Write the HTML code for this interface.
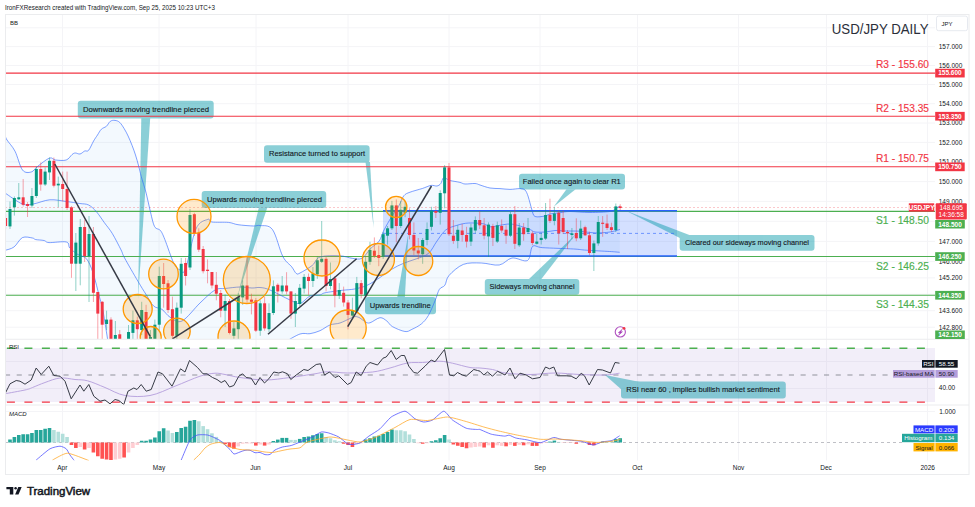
<!DOCTYPE html><html><head><meta charset="utf-8"><style>html,body{margin:0;padding:0;background:#fff;}svg{display:block;font-family:"Liberation Sans",sans-serif;}</style></head><body>
<svg width="975" height="507" viewBox="0 0 975 507">
<defs><clipPath id="cm"><rect x="5" y="14" width="930" height="325"/></clipPath><clipPath id="cr"><rect x="5" y="339.5" width="930" height="65"/></clipPath><clipPath id="cd"><rect x="5" y="405.5" width="930" height="55"/></clipPath></defs>
<rect x="0" y="0" width="975" height="507" fill="#fff"/>
<text x="5" y="10" font-size="7" fill="#131722" textLength="210" lengthAdjust="spacingAndGlyphs">IronFXResearch created with TradingView.com, Sep 25, 2025 10:23 UTC+3</text>
<line x1="62.5" y1="14" x2="62.5" y2="460.5" stroke="#f4f4f7" stroke-width="1"/>
<line x1="159" y1="14" x2="159" y2="460.5" stroke="#f4f4f7" stroke-width="1"/>
<line x1="256" y1="14" x2="256" y2="460.5" stroke="#f4f4f7" stroke-width="1"/>
<line x1="348" y1="14" x2="348" y2="460.5" stroke="#f4f4f7" stroke-width="1"/>
<line x1="449" y1="14" x2="449" y2="460.5" stroke="#f4f4f7" stroke-width="1"/>
<line x1="540" y1="14" x2="540" y2="460.5" stroke="#f4f4f7" stroke-width="1"/>
<line x1="637.5" y1="14" x2="637.5" y2="460.5" stroke="#f4f4f7" stroke-width="1"/>
<line x1="738.5" y1="14" x2="738.5" y2="460.5" stroke="#f4f4f7" stroke-width="1"/>
<line x1="826.5" y1="14" x2="826.5" y2="460.5" stroke="#f4f4f7" stroke-width="1"/>
<line x1="927.5" y1="14" x2="927.5" y2="460.5" stroke="#f4f4f7" stroke-width="1"/>
<line x1="5" y1="27.8" x2="935" y2="27.8" stroke="#f4f4f7" stroke-width="1"/>
<line x1="5" y1="46.6" x2="935" y2="46.6" stroke="#f4f4f7" stroke-width="1"/>
<line x1="5" y1="65.5" x2="935" y2="65.5" stroke="#f4f4f7" stroke-width="1"/>
<line x1="5" y1="84.5" x2="935" y2="84.5" stroke="#f4f4f7" stroke-width="1"/>
<line x1="5" y1="103.7" x2="935" y2="103.7" stroke="#f4f4f7" stroke-width="1"/>
<line x1="5" y1="123.0" x2="935" y2="123.0" stroke="#f4f4f7" stroke-width="1"/>
<line x1="5" y1="142.4" x2="935" y2="142.4" stroke="#f4f4f7" stroke-width="1"/>
<line x1="5" y1="161.9" x2="935" y2="161.9" stroke="#f4f4f7" stroke-width="1"/>
<line x1="5" y1="181.6" x2="935" y2="181.6" stroke="#f4f4f7" stroke-width="1"/>
<line x1="5" y1="201.4" x2="935" y2="201.4" stroke="#f4f4f7" stroke-width="1"/>
<line x1="5" y1="221.3" x2="935" y2="221.3" stroke="#f4f4f7" stroke-width="1"/>
<line x1="5" y1="241.4" x2="935" y2="241.4" stroke="#f4f4f7" stroke-width="1"/>
<line x1="5" y1="261.6" x2="935" y2="261.6" stroke="#f4f4f7" stroke-width="1"/>
<line x1="5" y1="277.9" x2="935" y2="277.9" stroke="#f4f4f7" stroke-width="1"/>
<line x1="5" y1="294.2" x2="935" y2="294.2" stroke="#f4f4f7" stroke-width="1"/>
<line x1="5" y1="310.7" x2="935" y2="310.7" stroke="#f4f4f7" stroke-width="1"/>
<line x1="5" y1="327.2" x2="935" y2="327.2" stroke="#f4f4f7" stroke-width="1"/>
<line x1="5" y1="361.5" x2="935" y2="361.5" stroke="#f4f4f7" stroke-width="1"/>
<line x1="5" y1="388.5" x2="935" y2="388.5" stroke="#f4f4f7" stroke-width="1"/>
<line x1="5" y1="411.5" x2="935" y2="411.5" stroke="#f4f4f7" stroke-width="1"/>
<g clip-path="url(#cm)">
<path d="M5.0,135.0 L7.0,140.0 L15.0,151.2 L22.5,170.0 L31.2,172.0 L37.5,166.5 L49.4,158.1 L55.6,160.0 L66.2,160.0 L72.0,154.6 L75.3,153.0 L80.0,154.0 L84.7,151.0 L88.6,150.3 L93.6,141.0 L97.5,135.0 L101.4,129.2 L106.4,126.3 L110.3,121.3 L115.0,120.4 L119.7,122.4 L124.2,128.7 L128.1,136.0 L132.1,145.5 L135.5,155.0 L138.8,166.6 L141.2,176.3 L146.2,193.2 L150.0,210.0 L154.5,226.4 L160.4,230.5 L164.8,239.4 L173.7,263.0 L180.0,270.0 L185.5,269.0 L195.9,229.0 L207.7,219.4 L212.0,222.0 L228.4,222.4 L238.0,224.7 L253.6,226.0 L260.0,225.5 L272.5,229.6 L282.8,256.4 L291.7,266.8 L296.2,273.4 L300.0,273.0 L312.4,265.3 L320.0,257.0 L339.8,255.8 L352.2,258.3 L362.0,258.3 L370.6,248.5 L379.2,241.0 L384.0,230.0 L391.5,216.8 L398.9,205.7 L403.8,195.8 L410.0,192.2 L422.3,188.5 L431.0,185.4 L437.0,186.0 L440.8,183.5 L443.2,178.0 L446.3,178.6 L450.0,180.5 L460.0,182.4 L465.0,184.0 L475.0,183.5 L480.0,185.0 L490.0,188.0 L500.0,188.6 L510.0,189.4 L520.0,188.6 L525.0,190.0 L528.0,196.0 L530.0,203.0 L532.0,210.0 L535.0,216.5 L545.0,216.0 L550.0,214.0 L560.0,212.7 L570.0,211.5 L590.0,212.5 L610.0,211.5 L615.0,209.0 L620.0,206.0 L619.7,252.3 L609.5,251.5 L586.4,250.2 L573.6,249.0 L542.8,247.7 L532.6,246.4 L527.5,260.5 L512.0,258.0 L499.2,265.0 L481.3,263.0 L463.3,264.4 L449.0,275.5 L444.9,285.2 L439.4,289.3 L435.2,300.4 L428.3,315.6 L421.4,323.9 L411.8,329.4 L404.9,331.5 L392.4,326.6 L386.9,321.1 L380.0,317.7 L370.0,322.8 L365.0,321.7 L360.0,318.0 L355.0,316.6 L350.0,318.5 L340.0,323.0 L330.0,325.0 L320.0,330.7 L310.0,333.7 L300.0,334.0 L285.0,342.0 L108.0,342.0 L103.0,311.0 L99.7,297.8 L93.0,272.8 L86.4,258.7 L78.0,254.6 L69.8,248.0 L66.4,242.0 L49.0,242.6 L44.0,240.5 L35.7,239.6 L32.4,238.0 L22.4,237.6 L14.0,247.0 L5.0,250.4 Z" fill="#2196f3" fill-opacity="0.055"/>
<line x1="5" y1="207.5" x2="935" y2="207.5" stroke="#f23645" stroke-width="0.8" stroke-dasharray="2,2" stroke-opacity="0.35"/>
<rect x="383" y="210.8" width="294" height="45.2" fill="#2962ff" fill-opacity="0.2"/>
</g>
<g opacity="0.45"><path d="M141.3,118 L150.2,118 L138,299 Z" fill="#0097a7"/><rect x="77.8" y="100.7" width="135.9" height="17.8" rx="3" fill="#0097a7"/></g>
<text x="83" y="112" font-size="8" fill="#131722" stroke="#131722" stroke-width="0.12" textLength="126" lengthAdjust="spacingAndGlyphs">Downwards moving trendline  pierced</text>
<g opacity="0.45"><path d="M259,207 L267.5,207 L237.5,296.5 Z" fill="#0097a7"/><rect x="201.7" y="191" width="124.5" height="17.0" rx="3" fill="#0097a7"/></g>
<text x="207" y="202.2" font-size="8" fill="#131722" stroke="#131722" stroke-width="0.12" textLength="115" lengthAdjust="spacingAndGlyphs">Upwards moving trendline pierced</text>
<g opacity="0.45"><path d="M365.5,162 L370,162 L373.7,228 Z" fill="#0097a7"/><rect x="264" y="145.2" width="105.6" height="17.6" rx="3" fill="#0097a7"/></g>
<text x="269" y="156.3" font-size="8" fill="#131722" stroke="#131722" stroke-width="0.12" textLength="96" lengthAdjust="spacingAndGlyphs">Resistance turned to support</text>
<g opacity="0.45"><path d="M397.3,297 L404.9,297 L408.4,233 Z" fill="#0097a7"/><rect x="365" y="296.9" width="71.0" height="17.3" rx="3" fill="#0097a7"/></g>
<text x="369.7" y="307.5" font-size="8" fill="#131722" stroke="#131722" stroke-width="0.12" textLength="61" lengthAdjust="spacingAndGlyphs">Upwards trendline</text>
<g opacity="0.45"><path d="M566.5,189.2 L575.6,189.2 L553.7,206.8 Z" fill="#0097a7"/><rect x="519" y="173.7" width="106.0" height="15.8" rx="3" fill="#0097a7"/></g>
<text x="522.8" y="183.5" font-size="8" fill="#131722" stroke="#131722" stroke-width="0.12" textLength="98" lengthAdjust="spacingAndGlyphs">Failed once again to clear R1</text>
<g opacity="0.45"><path d="M528.5,279.5 L541,279.5 L576,234 Z" fill="#0097a7"/><rect x="484.8" y="279" width="94.5" height="15.8" rx="3" fill="#0097a7"/></g>
<text x="489.6" y="289.4" font-size="8" fill="#131722" stroke="#131722" stroke-width="0.12" textLength="85" lengthAdjust="spacingAndGlyphs">Sideways moving channel</text>
<g opacity="0.45"><path d="M625.4,210.4 L690,235.2 L679.8,238 Z" fill="#0097a7"/><rect x="679.7" y="235" width="134.8" height="15.8" rx="3" fill="#0097a7"/></g>
<text x="685" y="245.2" font-size="8" fill="#131722" stroke="#131722" stroke-width="0.12" textLength="124" lengthAdjust="spacingAndGlyphs">Cleared our sideways moving channel</text>
<g clip-path="url(#cm)">
<line x1="5" y1="73.1" x2="935" y2="73.1" stroke="#f23645" stroke-width="1.1"/>
<line x1="5" y1="116.2" x2="935" y2="116.2" stroke="#f23645" stroke-width="1.1"/>
<line x1="5" y1="166.8" x2="935" y2="166.8" stroke="#f23645" stroke-width="1.1"/>
<line x1="5" y1="211.4" x2="935" y2="211.4" stroke="#4caf50" stroke-width="1.1"/>
<line x1="5" y1="256.5" x2="935" y2="256.5" stroke="#4caf50" stroke-width="1.1"/>
<line x1="5" y1="295.3" x2="935" y2="295.3" stroke="#4caf50" stroke-width="1.1"/>
<line x1="383" y1="233.4" x2="677" y2="233.4" stroke="#2962ff" stroke-width="1" stroke-dasharray="3,3" stroke-opacity="0.6"/>
<line x1="383" y1="210.8" x2="677" y2="210.8" stroke="#2962ff" stroke-width="1.6"/>
<line x1="383" y1="256" x2="677" y2="256" stroke="#2962ff" stroke-width="1.6"/>
<path d="M5.0,135.0 C5.3,135.8 5.3,137.3 7.0,140.0 C8.7,142.7 12.4,146.2 15.0,151.2 C17.6,156.2 19.8,166.5 22.5,170.0 C25.2,173.5 28.8,172.6 31.2,172.0 C33.8,171.4 34.5,168.8 37.5,166.5 C40.5,164.2 46.4,159.2 49.4,158.1 C52.4,157.0 52.8,159.7 55.6,160.0 C58.4,160.3 63.5,160.9 66.2,160.0 C69.0,159.1 70.5,155.8 72.0,154.6 C73.5,153.4 74.0,153.1 75.3,153.0 C76.6,152.9 78.4,154.3 80.0,154.0 C81.6,153.7 83.3,151.6 84.7,151.0 C86.1,150.4 87.1,152.0 88.6,150.3 C90.1,148.6 92.1,143.6 93.6,141.0 C95.1,138.4 96.2,137.0 97.5,135.0 C98.8,133.0 99.9,130.6 101.4,129.2 C102.9,127.7 104.9,127.6 106.4,126.3 C107.9,125.0 108.9,122.3 110.3,121.3 C111.7,120.3 113.4,120.2 115.0,120.4 C116.6,120.6 118.2,121.0 119.7,122.4 C121.2,123.8 122.8,126.4 124.2,128.7 C125.6,131.0 126.8,133.2 128.1,136.0 C129.4,138.8 130.9,142.3 132.1,145.5 C133.3,148.7 134.4,151.5 135.5,155.0 C136.6,158.5 137.9,163.0 138.8,166.6 C139.8,170.2 140.0,171.9 141.2,176.3 C142.4,180.7 144.7,187.6 146.2,193.2 C147.7,198.8 148.6,204.5 150.0,210.0 C151.4,215.5 152.8,223.0 154.5,226.4 C156.2,229.8 158.7,228.3 160.4,230.5 C162.1,232.7 162.6,234.0 164.8,239.4 C167.0,244.8 171.2,257.9 173.7,263.0 C176.2,268.1 178.0,269.0 180.0,270.0 C182.0,271.0 182.8,275.8 185.5,269.0 C188.2,262.2 192.2,237.3 195.9,229.0 C199.6,220.7 205.0,220.6 207.7,219.4 C210.4,218.2 208.6,221.5 212.0,222.0 C215.4,222.5 224.1,222.0 228.4,222.4 C232.7,222.8 233.8,224.1 238.0,224.7 C242.2,225.3 249.9,225.9 253.6,226.0 C257.3,226.1 256.9,224.9 260.0,225.5 C263.1,226.1 268.7,224.4 272.5,229.6 C276.3,234.8 279.6,250.2 282.8,256.4 C286.0,262.6 289.5,264.0 291.7,266.8 C293.9,269.6 294.8,272.4 296.2,273.4 C297.6,274.4 297.3,274.4 300.0,273.0 C302.7,271.6 309.1,268.0 312.4,265.3 C315.7,262.6 315.4,258.6 320.0,257.0 C324.6,255.4 334.4,255.6 339.8,255.8 C345.2,256.0 348.5,257.9 352.2,258.3 C355.9,258.7 358.9,259.9 362.0,258.3 C365.1,256.7 367.7,251.4 370.6,248.5 C373.5,245.6 377.0,244.1 379.2,241.0 C381.4,237.9 381.9,234.0 384.0,230.0 C386.1,226.0 389.0,220.9 391.5,216.8 C394.0,212.8 396.8,209.2 398.9,205.7 C400.9,202.2 401.9,198.1 403.8,195.8 C405.7,193.6 406.9,193.4 410.0,192.2 C413.1,191.0 418.8,189.6 422.3,188.5 C425.8,187.4 428.6,185.8 431.0,185.4 C433.4,185.0 435.4,186.3 437.0,186.0 C438.6,185.7 439.8,184.8 440.8,183.5 C441.8,182.2 442.3,178.8 443.2,178.0 C444.1,177.2 445.2,178.2 446.3,178.6 C447.4,179.0 447.7,179.9 450.0,180.5 C452.3,181.1 457.5,181.8 460.0,182.4 C462.5,183.0 462.5,183.8 465.0,184.0 C467.5,184.2 472.5,183.3 475.0,183.5 C477.5,183.7 477.5,184.2 480.0,185.0 C482.5,185.8 486.7,187.4 490.0,188.0 C493.3,188.6 496.7,188.4 500.0,188.6 C503.3,188.8 506.7,189.4 510.0,189.4 C513.3,189.4 517.5,188.5 520.0,188.6 C522.5,188.7 523.7,188.8 525.0,190.0 C526.3,191.2 527.2,193.8 528.0,196.0 C528.8,198.2 529.3,200.7 530.0,203.0 C530.7,205.3 531.2,207.8 532.0,210.0 C532.8,212.2 532.8,215.5 535.0,216.5 C537.2,217.5 542.5,216.4 545.0,216.0 C547.5,215.6 547.5,214.6 550.0,214.0 C552.5,213.4 556.7,213.1 560.0,212.7 C563.3,212.3 565.0,211.5 570.0,211.5 C575.0,211.5 583.3,212.5 590.0,212.5 C596.7,212.5 605.8,212.1 610.0,211.5 C614.2,210.9 613.3,209.9 615.0,209.0 C616.7,208.1 619.2,206.5 620.0,206.0" fill="none" stroke="#2962ff" stroke-opacity="0.75" stroke-width="0.8"/>
<path d="M5.0,193.0 C7.9,194.8 17.7,202.2 22.4,204.0 C27.1,205.8 28.6,204.7 33.2,204.0 C37.8,203.3 44.3,200.2 49.8,199.8 C55.3,199.4 61.4,200.9 66.4,201.5 C71.4,202.1 76.0,202.9 79.7,203.5 C83.4,204.1 85.8,203.6 88.6,205.0 C91.4,206.4 93.9,208.9 96.5,211.8 C99.1,214.8 101.8,219.1 104.4,222.7 C107.0,226.3 109.5,228.9 112.3,233.5 C115.1,238.1 119.0,245.9 121.1,250.0 C123.1,254.1 121.8,252.8 124.6,258.0 C127.4,263.2 134.3,275.1 137.9,281.2 C141.5,287.3 143.4,290.3 146.0,294.4 C148.6,298.5 150.9,303.5 153.6,306.0 C156.3,308.5 159.2,307.5 162.0,309.4 C164.8,311.3 166.9,315.4 170.2,317.3 C173.5,319.2 177.0,323.4 182.0,321.0 C187.0,318.6 194.5,308.2 200.0,303.0 C205.5,297.8 210.8,292.4 215.0,290.0 C219.2,287.6 220.8,289.0 225.0,288.5 C229.2,288.0 235.5,287.1 240.0,287.0 C244.5,286.9 248.7,287.9 252.0,288.0 C255.3,288.1 257.0,287.2 260.0,287.5 C263.0,287.8 265.0,287.9 270.0,290.0 C275.0,292.1 285.0,297.8 290.0,300.0 C295.0,302.2 296.7,304.2 300.0,303.5 C303.3,302.8 306.7,297.4 310.0,296.0 C313.3,294.6 317.5,295.4 320.0,294.9 C322.5,294.4 321.3,293.6 325.0,292.8 C328.7,292.0 337.4,290.9 342.3,290.3 C347.2,289.7 350.5,289.8 354.6,289.0 C358.7,288.2 362.8,287.2 366.9,285.4 C371.0,283.6 375.1,280.7 379.2,278.0 C383.3,275.3 387.4,271.9 391.5,269.4 C395.6,266.9 399.7,264.9 403.8,263.2 C407.9,261.4 412.1,260.5 416.2,258.9 C420.3,257.3 425.0,256.4 428.5,253.4 C432.0,250.4 434.1,244.9 437.0,241.0 C439.9,237.1 442.4,232.6 445.7,230.0 C449.0,227.4 453.1,226.5 457.0,225.3 C460.9,224.1 464.4,223.2 468.8,223.0 C473.2,222.8 480.0,223.2 483.5,223.8 C487.0,224.4 487.2,226.6 490.0,226.8 C492.8,227.1 496.7,225.8 500.0,225.3 C503.3,224.8 506.7,223.9 510.0,224.0 C513.3,224.1 516.7,225.1 520.0,226.0 C523.3,226.9 527.5,228.5 530.0,229.5 C532.5,230.5 532.5,231.6 535.0,232.0 C537.5,232.4 541.7,232.2 545.0,232.0 C548.3,231.8 551.7,230.7 555.0,230.5 C558.3,230.3 560.8,230.9 565.0,231.0 C569.2,231.1 575.0,230.9 580.0,231.2 C585.0,231.5 590.0,232.9 595.0,233.0 C600.0,233.1 605.8,232.6 610.0,232.0 C614.2,231.4 618.3,229.9 620.0,229.5" fill="none" stroke="#2962ff" stroke-opacity="0.75" stroke-width="0.8"/>
<path d="M5.0,250.4 C6.5,249.8 11.1,249.1 14.0,247.0 C16.9,244.9 19.3,239.1 22.4,237.6 C25.5,236.1 30.2,237.7 32.4,238.0 C34.6,238.3 33.8,239.2 35.7,239.6 C37.6,240.0 41.8,240.0 44.0,240.5 C46.2,241.0 45.3,242.3 49.0,242.6 C52.7,242.8 62.9,241.1 66.4,242.0 C69.9,242.9 67.9,245.9 69.8,248.0 C71.7,250.1 75.2,252.8 78.0,254.6 C80.8,256.4 83.9,255.7 86.4,258.7 C88.9,261.7 90.8,266.3 93.0,272.8 C95.2,279.3 98.0,291.4 99.7,297.8 C101.4,304.2 101.6,303.6 103.0,311.0 C104.4,318.4 107.2,336.8 108.0,342.0" fill="none" stroke="#2962ff" stroke-opacity="0.75" stroke-width="0.8"/>
<path d="M285.0,342.0 C287.5,340.7 295.8,335.4 300.0,334.0 C304.2,332.6 306.7,334.2 310.0,333.7 C313.3,333.1 316.7,332.1 320.0,330.7 C323.3,329.2 326.7,326.3 330.0,325.0 C333.3,323.7 336.7,324.1 340.0,323.0 C343.3,321.9 347.5,319.6 350.0,318.5 C352.5,317.4 353.3,316.7 355.0,316.6 C356.7,316.5 358.3,317.1 360.0,318.0 C361.7,318.9 363.3,320.9 365.0,321.7 C366.7,322.5 367.5,323.5 370.0,322.8 C372.5,322.1 377.2,318.0 380.0,317.7 C382.8,317.4 384.8,319.6 386.9,321.1 C389.0,322.6 389.4,324.9 392.4,326.6 C395.4,328.3 401.7,331.0 404.9,331.5 C408.1,332.0 409.1,330.7 411.8,329.4 C414.6,328.1 418.6,326.2 421.4,323.9 C424.1,321.6 426.0,319.5 428.3,315.6 C430.6,311.7 433.4,304.8 435.2,300.4 C437.0,296.0 437.8,291.8 439.4,289.3 C441.0,286.8 443.3,287.5 444.9,285.2 C446.5,282.9 445.9,279.0 449.0,275.5 C452.1,272.0 457.9,266.5 463.3,264.4 C468.7,262.3 475.3,262.9 481.3,263.0 C487.3,263.1 494.1,265.8 499.2,265.0 C504.3,264.2 507.3,258.8 512.0,258.0 C516.7,257.2 524.1,262.4 527.5,260.5 C530.9,258.6 530.1,248.5 532.6,246.4 C535.1,244.3 536.0,247.3 542.8,247.7 C549.6,248.1 566.3,248.6 573.6,249.0 C580.9,249.4 580.4,249.8 586.4,250.2 C592.4,250.6 604.0,251.2 609.5,251.5 C615.0,251.8 618.0,252.2 619.7,252.3" fill="none" stroke="#2962ff" stroke-opacity="0.75" stroke-width="0.8"/>
<line x1="5.61" y1="214.0" x2="5.61" y2="229.0" stroke="#f23645" stroke-opacity="0.45" stroke-width="1"/>
<rect x="4.11" y="218.0" width="3" height="8.00" fill="#f23645"/>
<line x1="10.00" y1="201.5" x2="10.00" y2="229.0" stroke="#089981" stroke-opacity="0.45" stroke-width="1"/>
<rect x="8.50" y="209.0" width="3" height="17.40" fill="#089981"/>
<line x1="14.39" y1="196.5" x2="14.39" y2="215.6" stroke="#089981" stroke-opacity="0.45" stroke-width="1"/>
<rect x="12.89" y="198.0" width="3" height="9.30" fill="#089981"/>
<line x1="18.78" y1="183.0" x2="18.78" y2="200.0" stroke="#089981" stroke-opacity="0.45" stroke-width="1"/>
<rect x="17.28" y="197.3" width="3" height="2.00" fill="#089981"/>
<line x1="23.17" y1="179.0" x2="23.17" y2="206.5" stroke="#f23645" stroke-opacity="0.45" stroke-width="1"/>
<rect x="21.67" y="197.3" width="3" height="7.50" fill="#f23645"/>
<line x1="27.56" y1="202.0" x2="27.56" y2="217.0" stroke="#f23645" stroke-opacity="0.45" stroke-width="1"/>
<rect x="26.06" y="204.0" width="3" height="2.00" fill="#f23645"/>
<line x1="31.95" y1="188.0" x2="31.95" y2="208.0" stroke="#089981" stroke-opacity="0.45" stroke-width="1"/>
<rect x="30.45" y="196.0" width="3" height="9.60" fill="#089981"/>
<line x1="36.34" y1="166.6" x2="36.34" y2="198.0" stroke="#089981" stroke-opacity="0.45" stroke-width="1"/>
<rect x="34.84" y="169.0" width="3" height="27.00" fill="#089981"/>
<line x1="40.73" y1="162.5" x2="40.73" y2="190.7" stroke="#f23645" stroke-opacity="0.45" stroke-width="1"/>
<rect x="39.23" y="169.0" width="3" height="15.50" fill="#f23645"/>
<line x1="45.12" y1="167.4" x2="45.12" y2="186.0" stroke="#089981" stroke-opacity="0.45" stroke-width="1"/>
<rect x="43.62" y="171.6" width="3" height="12.90" fill="#089981"/>
<line x1="49.51" y1="157.5" x2="49.51" y2="180.0" stroke="#089981" stroke-opacity="0.45" stroke-width="1"/>
<rect x="48.01" y="160.8" width="3" height="11.60" fill="#089981"/>
<line x1="53.90" y1="157.5" x2="53.90" y2="187.4" stroke="#f23645" stroke-opacity="0.45" stroke-width="1"/>
<rect x="52.40" y="160.8" width="3" height="24.90" fill="#f23645"/>
<line x1="58.29" y1="176.6" x2="58.29" y2="207.3" stroke="#089981" stroke-opacity="0.45" stroke-width="1"/>
<rect x="56.79" y="183.7" width="3" height="1.70" fill="#089981"/>
<line x1="62.68" y1="171.6" x2="62.68" y2="201.5" stroke="#f23645" stroke-opacity="0.45" stroke-width="1"/>
<rect x="61.18" y="184.0" width="3" height="5.00" fill="#f23645"/>
<line x1="67.07" y1="171.6" x2="67.07" y2="210.0" stroke="#f23645" stroke-opacity="0.45" stroke-width="1"/>
<rect x="65.57" y="189.0" width="3" height="19.00" fill="#f23645"/>
<line x1="71.46" y1="206.0" x2="71.46" y2="277.8" stroke="#f23645" stroke-opacity="0.45" stroke-width="1"/>
<rect x="69.96" y="207.3" width="3" height="56.40" fill="#f23645"/>
<line x1="75.85" y1="233.0" x2="75.85" y2="291.0" stroke="#089981" stroke-opacity="0.45" stroke-width="1"/>
<rect x="74.35" y="242.6" width="3" height="21.10" fill="#089981"/>
<line x1="80.24" y1="219.0" x2="80.24" y2="285.3" stroke="#089981" stroke-opacity="0.45" stroke-width="1"/>
<rect x="78.74" y="227.0" width="3" height="36.70" fill="#089981"/>
<line x1="84.63" y1="219.8" x2="84.63" y2="262.0" stroke="#f23645" stroke-opacity="0.45" stroke-width="1"/>
<rect x="83.13" y="227.0" width="3" height="29.00" fill="#f23645"/>
<line x1="89.02" y1="216.0" x2="89.02" y2="302.0" stroke="#089981" stroke-opacity="0.45" stroke-width="1"/>
<rect x="87.52" y="234.0" width="3" height="22.20" fill="#089981"/>
<line x1="93.41" y1="227.0" x2="93.41" y2="302.0" stroke="#f23645" stroke-opacity="0.45" stroke-width="1"/>
<rect x="91.91" y="234.0" width="3" height="58.80" fill="#f23645"/>
<line x1="97.80" y1="292.0" x2="97.80" y2="339.0" stroke="#f23645" stroke-opacity="0.45" stroke-width="1"/>
<rect x="96.30" y="292.0" width="3" height="21.60" fill="#f23645"/>
<line x1="102.19" y1="301.0" x2="102.19" y2="339.0" stroke="#f23645" stroke-opacity="0.45" stroke-width="1"/>
<rect x="100.69" y="301.8" width="3" height="22.90" fill="#f23645"/>
<line x1="106.58" y1="310.7" x2="106.58" y2="330.0" stroke="#089981" stroke-opacity="0.45" stroke-width="1"/>
<rect x="105.08" y="319.6" width="3" height="4.40" fill="#089981"/>
<line x1="110.97" y1="317.3" x2="110.97" y2="339.0" stroke="#f23645" stroke-opacity="0.45" stroke-width="1"/>
<rect x="109.47" y="319.6" width="3" height="19.40" fill="#f23645"/>
<line x1="115.36" y1="321.0" x2="115.36" y2="339.0" stroke="#089981" stroke-opacity="0.45" stroke-width="1"/>
<rect x="113.86" y="335.0" width="3" height="4.00" fill="#089981"/>
<line x1="119.75" y1="330.0" x2="119.75" y2="339.0" stroke="#f23645" stroke-opacity="0.45" stroke-width="1"/>
<rect x="118.25" y="334.3" width="3" height="4.70" fill="#f23645"/>
<line x1="128.53" y1="325.0" x2="128.53" y2="339.0" stroke="#089981" stroke-opacity="0.45" stroke-width="1"/>
<rect x="127.03" y="332.0" width="3" height="7.00" fill="#089981"/>
<line x1="132.92" y1="310.7" x2="132.92" y2="339.0" stroke="#089981" stroke-opacity="0.45" stroke-width="1"/>
<rect x="131.42" y="320.3" width="3" height="12.60" fill="#089981"/>
<line x1="137.31" y1="316.6" x2="137.31" y2="339.0" stroke="#f23645" stroke-opacity="0.45" stroke-width="1"/>
<rect x="135.81" y="320.3" width="3" height="8.90" fill="#f23645"/>
<line x1="141.70" y1="301.8" x2="141.70" y2="335.0" stroke="#089981" stroke-opacity="0.45" stroke-width="1"/>
<rect x="140.20" y="310.0" width="3" height="20.00" fill="#089981"/>
<line x1="146.09" y1="304.8" x2="146.09" y2="339.0" stroke="#f23645" stroke-opacity="0.45" stroke-width="1"/>
<rect x="144.59" y="312.0" width="3" height="27.00" fill="#f23645"/>
<line x1="150.48" y1="330.0" x2="150.48" y2="339.0" stroke="#089981" stroke-opacity="0.45" stroke-width="1"/>
<rect x="148.98" y="337.0" width="3" height="2.00" fill="#089981"/>
<line x1="154.87" y1="319.6" x2="154.87" y2="339.0" stroke="#089981" stroke-opacity="0.45" stroke-width="1"/>
<rect x="153.37" y="324.7" width="3" height="14.30" fill="#089981"/>
<line x1="159.26" y1="266.7" x2="159.26" y2="330.0" stroke="#089981" stroke-opacity="0.45" stroke-width="1"/>
<rect x="157.76" y="276.0" width="3" height="48.70" fill="#089981"/>
<line x1="163.65" y1="263.0" x2="163.65" y2="307.7" stroke="#f23645" stroke-opacity="0.45" stroke-width="1"/>
<rect x="162.15" y="276.0" width="3" height="8.00" fill="#f23645"/>
<line x1="168.04" y1="280.0" x2="168.04" y2="313.0" stroke="#f23645" stroke-opacity="0.45" stroke-width="1"/>
<rect x="166.54" y="283.3" width="3" height="26.70" fill="#f23645"/>
<line x1="172.43" y1="296.6" x2="172.43" y2="339.0" stroke="#f23645" stroke-opacity="0.45" stroke-width="1"/>
<rect x="170.93" y="309.2" width="3" height="26.60" fill="#f23645"/>
<line x1="176.82" y1="302.5" x2="176.82" y2="339.0" stroke="#089981" stroke-opacity="0.45" stroke-width="1"/>
<rect x="175.32" y="307.7" width="3" height="28.10" fill="#089981"/>
<line x1="181.21" y1="257.9" x2="181.21" y2="313.6" stroke="#089981" stroke-opacity="0.45" stroke-width="1"/>
<rect x="179.71" y="263.8" width="3" height="43.90" fill="#089981"/>
<line x1="185.60" y1="257.9" x2="185.60" y2="285.5" stroke="#f23645" stroke-opacity="0.45" stroke-width="1"/>
<rect x="184.10" y="263.0" width="3" height="13.00" fill="#f23645"/>
<line x1="189.99" y1="209.0" x2="189.99" y2="270.0" stroke="#089981" stroke-opacity="0.45" stroke-width="1"/>
<rect x="188.49" y="215.0" width="3" height="52.50" fill="#089981"/>
<line x1="194.38" y1="212.8" x2="194.38" y2="236.0" stroke="#f23645" stroke-opacity="0.45" stroke-width="1"/>
<rect x="192.88" y="214.2" width="3" height="19.30" fill="#f23645"/>
<line x1="198.77" y1="228.3" x2="198.77" y2="252.0" stroke="#f23645" stroke-opacity="0.45" stroke-width="1"/>
<rect x="197.27" y="232.7" width="3" height="17.00" fill="#f23645"/>
<line x1="203.16" y1="246.0" x2="203.16" y2="273.4" stroke="#f23645" stroke-opacity="0.45" stroke-width="1"/>
<rect x="201.66" y="249.0" width="3" height="22.20" fill="#f23645"/>
<line x1="207.55" y1="259.4" x2="207.55" y2="283.3" stroke="#f23645" stroke-opacity="0.45" stroke-width="1"/>
<rect x="206.05" y="269.7" width="3" height="1.30" fill="#f23645"/>
<line x1="211.94" y1="272.0" x2="211.94" y2="288.5" stroke="#f23645" stroke-opacity="0.45" stroke-width="1"/>
<rect x="210.44" y="272.0" width="3" height="13.50" fill="#f23645"/>
<line x1="216.33" y1="272.0" x2="216.33" y2="300.3" stroke="#f23645" stroke-opacity="0.45" stroke-width="1"/>
<rect x="214.83" y="284.8" width="3" height="8.90" fill="#f23645"/>
<line x1="220.72" y1="290.0" x2="220.72" y2="317.3" stroke="#f23645" stroke-opacity="0.45" stroke-width="1"/>
<rect x="219.22" y="293.0" width="3" height="17.70" fill="#f23645"/>
<line x1="225.11" y1="294.4" x2="225.11" y2="327.0" stroke="#089981" stroke-opacity="0.45" stroke-width="1"/>
<rect x="223.61" y="301.0" width="3" height="9.70" fill="#089981"/>
<line x1="229.50" y1="299.0" x2="229.50" y2="334.4" stroke="#f23645" stroke-opacity="0.45" stroke-width="1"/>
<rect x="228.00" y="301.0" width="3" height="32.00" fill="#f23645"/>
<line x1="233.89" y1="321.8" x2="233.89" y2="339.0" stroke="#089981" stroke-opacity="0.45" stroke-width="1"/>
<rect x="232.39" y="328.4" width="3" height="7.40" fill="#089981"/>
<line x1="238.28" y1="293.0" x2="238.28" y2="339.0" stroke="#089981" stroke-opacity="0.45" stroke-width="1"/>
<rect x="236.78" y="297.4" width="3" height="31.80" fill="#089981"/>
<line x1="242.67" y1="280.4" x2="242.67" y2="304.8" stroke="#089981" stroke-opacity="0.45" stroke-width="1"/>
<rect x="241.17" y="285.5" width="3" height="11.90" fill="#089981"/>
<line x1="247.06" y1="256.4" x2="247.06" y2="302.5" stroke="#f23645" stroke-opacity="0.45" stroke-width="1"/>
<rect x="245.56" y="285.5" width="3" height="14.10" fill="#f23645"/>
<line x1="251.45" y1="293.7" x2="251.45" y2="314.4" stroke="#f23645" stroke-opacity="0.45" stroke-width="1"/>
<rect x="249.95" y="299.6" width="3" height="2.20" fill="#f23645"/>
<line x1="255.84" y1="298.0" x2="255.84" y2="332.0" stroke="#f23645" stroke-opacity="0.45" stroke-width="1"/>
<rect x="254.34" y="300.3" width="3" height="30.40" fill="#f23645"/>
<line x1="260.23" y1="300.3" x2="260.23" y2="335.8" stroke="#089981" stroke-opacity="0.45" stroke-width="1"/>
<rect x="258.73" y="303.3" width="3" height="27.40" fill="#089981"/>
<line x1="264.62" y1="296.6" x2="264.62" y2="330.7" stroke="#f23645" stroke-opacity="0.45" stroke-width="1"/>
<rect x="263.12" y="303.3" width="3" height="25.10" fill="#f23645"/>
<line x1="269.01" y1="303.3" x2="269.01" y2="332.0" stroke="#089981" stroke-opacity="0.45" stroke-width="1"/>
<rect x="267.51" y="313.0" width="3" height="16.20" fill="#089981"/>
<line x1="273.40" y1="280.4" x2="273.40" y2="315.0" stroke="#089981" stroke-opacity="0.45" stroke-width="1"/>
<rect x="271.90" y="286.3" width="3" height="26.70" fill="#089981"/>
<line x1="277.79" y1="283.3" x2="277.79" y2="302.5" stroke="#f23645" stroke-opacity="0.45" stroke-width="1"/>
<rect x="276.29" y="284.8" width="3" height="6.60" fill="#f23645"/>
<line x1="282.18" y1="276.0" x2="282.18" y2="293.7" stroke="#089981" stroke-opacity="0.45" stroke-width="1"/>
<rect x="280.68" y="285.5" width="3" height="5.90" fill="#089981"/>
<line x1="286.57" y1="272.2" x2="286.57" y2="294.4" stroke="#f23645" stroke-opacity="0.45" stroke-width="1"/>
<rect x="285.07" y="285.5" width="3" height="5.90" fill="#f23645"/>
<line x1="290.96" y1="291.4" x2="290.96" y2="318.8" stroke="#f23645" stroke-opacity="0.45" stroke-width="1"/>
<rect x="289.46" y="291.4" width="3" height="22.20" fill="#f23645"/>
<line x1="295.35" y1="293.0" x2="295.35" y2="327.0" stroke="#089981" stroke-opacity="0.45" stroke-width="1"/>
<rect x="293.85" y="301.0" width="3" height="12.60" fill="#089981"/>
<line x1="299.74" y1="284.0" x2="299.74" y2="306.0" stroke="#089981" stroke-opacity="0.45" stroke-width="1"/>
<rect x="298.24" y="287.8" width="3" height="16.20" fill="#089981"/>
<line x1="304.13" y1="274.0" x2="304.13" y2="293.5" stroke="#089981" stroke-opacity="0.45" stroke-width="1"/>
<rect x="302.63" y="276.9" width="3" height="11.70" fill="#089981"/>
<line x1="308.52" y1="273.5" x2="308.52" y2="294.9" stroke="#f23645" stroke-opacity="0.45" stroke-width="1"/>
<rect x="307.02" y="276.9" width="3" height="4.10" fill="#f23645"/>
<line x1="312.91" y1="267.0" x2="312.91" y2="287.0" stroke="#089981" stroke-opacity="0.45" stroke-width="1"/>
<rect x="311.41" y="273.5" width="3" height="7.50" fill="#089981"/>
<line x1="317.30" y1="256.0" x2="317.30" y2="278.8" stroke="#089981" stroke-opacity="0.45" stroke-width="1"/>
<rect x="315.80" y="260.3" width="3" height="14.10" fill="#089981"/>
<line x1="321.69" y1="221.0" x2="321.69" y2="263.0" stroke="#089981" stroke-opacity="0.45" stroke-width="1"/>
<rect x="320.19" y="258.8" width="3" height="3.00" fill="#089981"/>
<line x1="326.08" y1="257.0" x2="326.08" y2="291.4" stroke="#f23645" stroke-opacity="0.45" stroke-width="1"/>
<rect x="324.58" y="258.8" width="3" height="27.20" fill="#f23645"/>
<line x1="330.47" y1="262.5" x2="330.47" y2="289.3" stroke="#089981" stroke-opacity="0.45" stroke-width="1"/>
<rect x="328.97" y="279.0" width="3" height="7.00" fill="#089981"/>
<line x1="334.86" y1="276.0" x2="334.86" y2="307.3" stroke="#f23645" stroke-opacity="0.45" stroke-width="1"/>
<rect x="333.36" y="278.3" width="3" height="17.30" fill="#f23645"/>
<line x1="339.25" y1="283.1" x2="339.25" y2="299.0" stroke="#089981" stroke-opacity="0.45" stroke-width="1"/>
<rect x="337.75" y="290.0" width="3" height="5.60" fill="#089981"/>
<line x1="343.64" y1="286.6" x2="343.64" y2="306.6" stroke="#f23645" stroke-opacity="0.45" stroke-width="1"/>
<rect x="342.14" y="292.8" width="3" height="9.70" fill="#f23645"/>
<line x1="348.03" y1="300.0" x2="348.03" y2="329.4" stroke="#f23645" stroke-opacity="0.45" stroke-width="1"/>
<rect x="346.53" y="302.5" width="3" height="12.40" fill="#f23645"/>
<line x1="352.42" y1="297.6" x2="352.42" y2="318.0" stroke="#089981" stroke-opacity="0.45" stroke-width="1"/>
<rect x="350.92" y="310.0" width="3" height="5.60" fill="#089981"/>
<line x1="356.81" y1="276.9" x2="356.81" y2="313.0" stroke="#089981" stroke-opacity="0.45" stroke-width="1"/>
<rect x="355.31" y="283.1" width="3" height="28.30" fill="#089981"/>
<line x1="361.20" y1="280.0" x2="361.20" y2="298.3" stroke="#f23645" stroke-opacity="0.45" stroke-width="1"/>
<rect x="359.70" y="283.1" width="3" height="11.10" fill="#f23645"/>
<line x1="365.59" y1="256.6" x2="365.59" y2="297.0" stroke="#089981" stroke-opacity="0.45" stroke-width="1"/>
<rect x="364.09" y="261.8" width="3" height="33.80" fill="#089981"/>
<line x1="369.98" y1="241.8" x2="369.98" y2="264.8" stroke="#089981" stroke-opacity="0.45" stroke-width="1"/>
<rect x="368.48" y="250.0" width="3" height="11.80" fill="#089981"/>
<line x1="374.37" y1="237.4" x2="374.37" y2="258.0" stroke="#f23645" stroke-opacity="0.45" stroke-width="1"/>
<rect x="372.87" y="250.7" width="3" height="5.20" fill="#f23645"/>
<line x1="378.76" y1="245.5" x2="378.76" y2="266.2" stroke="#f23645" stroke-opacity="0.45" stroke-width="1"/>
<rect x="377.26" y="255.0" width="3" height="3.00" fill="#f23645"/>
<line x1="383.15" y1="232.0" x2="383.15" y2="259.0" stroke="#089981" stroke-opacity="0.45" stroke-width="1"/>
<rect x="381.65" y="234.2" width="3" height="22.80" fill="#089981"/>
<line x1="387.54" y1="226.0" x2="387.54" y2="244.6" stroke="#089981" stroke-opacity="0.45" stroke-width="1"/>
<rect x="386.04" y="228.3" width="3" height="7.40" fill="#089981"/>
<line x1="391.93" y1="200.9" x2="391.93" y2="230.0" stroke="#089981" stroke-opacity="0.45" stroke-width="1"/>
<rect x="390.43" y="205.4" width="3" height="22.90" fill="#089981"/>
<line x1="396.32" y1="199.4" x2="396.32" y2="242.3" stroke="#f23645" stroke-opacity="0.45" stroke-width="1"/>
<rect x="394.82" y="205.4" width="3" height="20.60" fill="#f23645"/>
<line x1="400.71" y1="201.0" x2="400.71" y2="228.0" stroke="#089981" stroke-opacity="0.45" stroke-width="1"/>
<rect x="399.21" y="209.8" width="3" height="16.20" fill="#089981"/>
<line x1="405.10" y1="201.7" x2="405.10" y2="217.2" stroke="#089981" stroke-opacity="0.45" stroke-width="1"/>
<rect x="403.60" y="206.8" width="3" height="6.00" fill="#089981"/>
<line x1="409.49" y1="208.3" x2="409.49" y2="239.4" stroke="#f23645" stroke-opacity="0.45" stroke-width="1"/>
<rect x="407.99" y="218.0" width="3" height="17.00" fill="#f23645"/>
<line x1="413.88" y1="222.4" x2="413.88" y2="255.0" stroke="#f23645" stroke-opacity="0.45" stroke-width="1"/>
<rect x="412.38" y="235.0" width="3" height="15.50" fill="#f23645"/>
<line x1="418.27" y1="238.0" x2="418.27" y2="259.4" stroke="#f23645" stroke-opacity="0.45" stroke-width="1"/>
<rect x="416.77" y="250.5" width="3" height="2.90" fill="#f23645"/>
<line x1="422.66" y1="238.0" x2="422.66" y2="263.8" stroke="#089981" stroke-opacity="0.45" stroke-width="1"/>
<rect x="421.16" y="240.0" width="3" height="14.20" fill="#089981"/>
<line x1="427.05" y1="222.4" x2="427.05" y2="245.3" stroke="#089981" stroke-opacity="0.45" stroke-width="1"/>
<rect x="425.55" y="229.0" width="3" height="11.00" fill="#089981"/>
<line x1="431.44" y1="206.8" x2="431.44" y2="230.5" stroke="#089981" stroke-opacity="0.45" stroke-width="1"/>
<rect x="429.94" y="210.5" width="3" height="16.30" fill="#089981"/>
<line x1="435.83" y1="206.0" x2="435.83" y2="218.0" stroke="#f23645" stroke-opacity="0.45" stroke-width="1"/>
<rect x="434.33" y="211.0" width="3" height="1.80" fill="#f23645"/>
<line x1="440.22" y1="190.3" x2="440.22" y2="224.6" stroke="#089981" stroke-opacity="0.45" stroke-width="1"/>
<rect x="438.72" y="193.0" width="3" height="19.80" fill="#089981"/>
<line x1="444.61" y1="165.1" x2="444.61" y2="208.3" stroke="#089981" stroke-opacity="0.45" stroke-width="1"/>
<rect x="443.11" y="167.4" width="3" height="25.90" fill="#089981"/>
<line x1="449.00" y1="163.0" x2="449.00" y2="236.0" stroke="#f23645" stroke-opacity="0.45" stroke-width="1"/>
<rect x="447.50" y="167.4" width="3" height="66.80" fill="#f23645"/>
<line x1="453.39" y1="220.0" x2="453.39" y2="243.8" stroke="#f23645" stroke-opacity="0.45" stroke-width="1"/>
<rect x="451.89" y="235.7" width="3" height="5.20" fill="#f23645"/>
<line x1="457.78" y1="225.3" x2="457.78" y2="248.3" stroke="#089981" stroke-opacity="0.45" stroke-width="1"/>
<rect x="456.28" y="229.8" width="3" height="11.10" fill="#089981"/>
<line x1="462.17" y1="223.8" x2="462.17" y2="241.6" stroke="#f23645" stroke-opacity="0.45" stroke-width="1"/>
<rect x="460.67" y="230.5" width="3" height="4.50" fill="#f23645"/>
<line x1="466.56" y1="226.8" x2="466.56" y2="247.5" stroke="#f23645" stroke-opacity="0.45" stroke-width="1"/>
<rect x="465.06" y="235.0" width="3" height="6.60" fill="#f23645"/>
<line x1="470.95" y1="223.8" x2="470.95" y2="246.0" stroke="#089981" stroke-opacity="0.45" stroke-width="1"/>
<rect x="469.45" y="227.5" width="3" height="14.10" fill="#089981"/>
<line x1="475.34" y1="216.4" x2="475.34" y2="233.5" stroke="#089981" stroke-opacity="0.45" stroke-width="1"/>
<rect x="473.84" y="220.0" width="3" height="10.50" fill="#089981"/>
<line x1="479.73" y1="211.3" x2="479.73" y2="229.0" stroke="#f23645" stroke-opacity="0.45" stroke-width="1"/>
<rect x="478.23" y="220.0" width="3" height="5.30" fill="#f23645"/>
<line x1="484.12" y1="218.0" x2="484.12" y2="239.4" stroke="#f23645" stroke-opacity="0.45" stroke-width="1"/>
<rect x="482.62" y="225.3" width="3" height="10.40" fill="#f23645"/>
<line x1="488.51" y1="222.4" x2="488.51" y2="257.0" stroke="#089981" stroke-opacity="0.45" stroke-width="1"/>
<rect x="487.01" y="224.6" width="3" height="11.80" fill="#089981"/>
<line x1="492.90" y1="223.8" x2="492.90" y2="246.0" stroke="#f23645" stroke-opacity="0.45" stroke-width="1"/>
<rect x="491.40" y="226.0" width="3" height="11.90" fill="#f23645"/>
<line x1="497.29" y1="221.6" x2="497.29" y2="243.0" stroke="#089981" stroke-opacity="0.45" stroke-width="1"/>
<rect x="495.79" y="225.3" width="3" height="16.30" fill="#089981"/>
<line x1="501.68" y1="219.4" x2="501.68" y2="232.7" stroke="#f23645" stroke-opacity="0.45" stroke-width="1"/>
<rect x="500.18" y="226.0" width="3" height="4.50" fill="#f23645"/>
<line x1="506.07" y1="225.3" x2="506.07" y2="243.8" stroke="#f23645" stroke-opacity="0.45" stroke-width="1"/>
<rect x="504.57" y="229.7" width="3" height="6.00" fill="#f23645"/>
<line x1="510.46" y1="212.0" x2="510.46" y2="237.0" stroke="#089981" stroke-opacity="0.45" stroke-width="1"/>
<rect x="508.96" y="214.2" width="3" height="21.50" fill="#089981"/>
<line x1="514.85" y1="206.0" x2="514.85" y2="249.0" stroke="#f23645" stroke-opacity="0.45" stroke-width="1"/>
<rect x="513.35" y="214.2" width="3" height="29.60" fill="#f23645"/>
<line x1="519.24" y1="223.0" x2="519.24" y2="247.0" stroke="#089981" stroke-opacity="0.45" stroke-width="1"/>
<rect x="517.74" y="227.5" width="3" height="17.80" fill="#089981"/>
<line x1="523.63" y1="223.0" x2="523.63" y2="240.8" stroke="#f23645" stroke-opacity="0.45" stroke-width="1"/>
<rect x="522.13" y="227.5" width="3" height="6.70" fill="#f23645"/>
<line x1="528.02" y1="218.0" x2="528.02" y2="234.0" stroke="#089981" stroke-opacity="0.45" stroke-width="1"/>
<rect x="526.52" y="228.0" width="3" height="4.00" fill="#089981"/>
<line x1="532.41" y1="231.2" x2="532.41" y2="245.3" stroke="#f23645" stroke-opacity="0.45" stroke-width="1"/>
<rect x="530.91" y="233.4" width="3" height="9.60" fill="#f23645"/>
<line x1="536.80" y1="233.4" x2="536.80" y2="244.5" stroke="#089981" stroke-opacity="0.45" stroke-width="1"/>
<rect x="535.30" y="241.6" width="3" height="2.20" fill="#089981"/>
<line x1="541.19" y1="232.7" x2="541.19" y2="244.5" stroke="#089981" stroke-opacity="0.45" stroke-width="1"/>
<rect x="539.69" y="237.9" width="3" height="2.10" fill="#089981"/>
<line x1="545.58" y1="203.0" x2="545.58" y2="240.0" stroke="#089981" stroke-opacity="0.45" stroke-width="1"/>
<rect x="544.08" y="215.0" width="3" height="23.60" fill="#089981"/>
<line x1="549.97" y1="198.7" x2="549.97" y2="223.0" stroke="#f23645" stroke-opacity="0.45" stroke-width="1"/>
<rect x="548.47" y="215.0" width="3" height="5.90" fill="#f23645"/>
<line x1="554.36" y1="206.8" x2="554.36" y2="225.3" stroke="#089981" stroke-opacity="0.45" stroke-width="1"/>
<rect x="552.86" y="213.5" width="3" height="7.40" fill="#089981"/>
<line x1="558.75" y1="210.5" x2="558.75" y2="244.5" stroke="#f23645" stroke-opacity="0.45" stroke-width="1"/>
<rect x="557.25" y="212.7" width="3" height="20.70" fill="#f23645"/>
<line x1="563.14" y1="210.5" x2="563.14" y2="234.0" stroke="#f23645" stroke-opacity="0.45" stroke-width="1"/>
<rect x="561.64" y="218.0" width="3" height="14.00" fill="#f23645"/>
<line x1="567.53" y1="230.0" x2="567.53" y2="249.0" stroke="#f23645" stroke-opacity="0.45" stroke-width="1"/>
<rect x="566.03" y="232.0" width="3" height="1.40" fill="#f23645"/>
<line x1="571.92" y1="228.0" x2="571.92" y2="239.4" stroke="#089981" stroke-opacity="0.45" stroke-width="1"/>
<rect x="570.42" y="233.4" width="3" height="1.60" fill="#089981"/>
<line x1="576.31" y1="218.3" x2="576.31" y2="241.2" stroke="#f23645" stroke-opacity="0.45" stroke-width="1"/>
<rect x="574.81" y="233.0" width="3" height="5.30" fill="#f23645"/>
<line x1="580.70" y1="220.5" x2="580.70" y2="240.0" stroke="#089981" stroke-opacity="0.45" stroke-width="1"/>
<rect x="579.20" y="228.6" width="3" height="9.70" fill="#089981"/>
<line x1="585.09" y1="225.7" x2="585.09" y2="236.0" stroke="#f23645" stroke-opacity="0.45" stroke-width="1"/>
<rect x="583.59" y="227.2" width="3" height="8.10" fill="#f23645"/>
<line x1="589.48" y1="231.6" x2="589.48" y2="255.3" stroke="#f23645" stroke-opacity="0.45" stroke-width="1"/>
<rect x="587.98" y="235.3" width="3" height="17.70" fill="#f23645"/>
<line x1="593.87" y1="240.5" x2="593.87" y2="271.0" stroke="#089981" stroke-opacity="0.45" stroke-width="1"/>
<rect x="592.37" y="243.4" width="3" height="9.60" fill="#089981"/>
<line x1="598.26" y1="216.0" x2="598.26" y2="245.7" stroke="#089981" stroke-opacity="0.45" stroke-width="1"/>
<rect x="596.76" y="222.0" width="3" height="21.40" fill="#089981"/>
<line x1="602.65" y1="216.0" x2="602.65" y2="236.8" stroke="#f23645" stroke-opacity="0.45" stroke-width="1"/>
<rect x="601.15" y="222.7" width="3" height="1.20" fill="#f23645"/>
<line x1="607.04" y1="214.6" x2="607.04" y2="230.0" stroke="#f23645" stroke-opacity="0.45" stroke-width="1"/>
<rect x="605.54" y="223.5" width="3" height="4.50" fill="#f23645"/>
<line x1="611.43" y1="222.7" x2="611.43" y2="232.0" stroke="#f23645" stroke-opacity="0.45" stroke-width="1"/>
<rect x="609.93" y="227.2" width="3" height="2.80" fill="#f23645"/>
<line x1="615.82" y1="203.5" x2="615.82" y2="232.0" stroke="#089981" stroke-opacity="0.45" stroke-width="1"/>
<rect x="614.32" y="206.4" width="3" height="23.60" fill="#089981"/>
<line x1="620.21" y1="204.2" x2="620.21" y2="210.0" stroke="#f23645" stroke-opacity="0.45" stroke-width="1"/>
<rect x="618.71" y="206.4" width="3" height="1.60" fill="#f23645"/>
<circle cx="137.7" cy="309" r="14.5" fill="#ff9800" fill-opacity="0.2" stroke="#ff9800" stroke-width="1.3"/>
<circle cx="150.7" cy="337" r="10.5" fill="#ff9800" fill-opacity="0.2" stroke="#ff9800" stroke-width="1.3"/>
<circle cx="163.5" cy="274" r="14.8" fill="#ff9800" fill-opacity="0.2" stroke="#ff9800" stroke-width="1.3"/>
<circle cx="176.9" cy="331.5" r="13.3" fill="#ff9800" fill-opacity="0.2" stroke="#ff9800" stroke-width="1.3"/>
<circle cx="194" cy="216.4" r="17" fill="#ff9800" fill-opacity="0.2" stroke="#ff9800" stroke-width="1.3"/>
<circle cx="234" cy="337" r="16" fill="#ff9800" fill-opacity="0.2" stroke="#ff9800" stroke-width="1.3"/>
<circle cx="246.8" cy="280" r="23.5" fill="#ff9800" fill-opacity="0.2" stroke="#ff9800" stroke-width="1.3"/>
<circle cx="322" cy="258" r="18" fill="#ff9800" fill-opacity="0.2" stroke="#ff9800" stroke-width="1.3"/>
<circle cx="348.2" cy="328" r="18" fill="#ff9800" fill-opacity="0.2" stroke="#ff9800" stroke-width="1.3"/>
<circle cx="378.4" cy="259.5" r="16" fill="#ff9800" fill-opacity="0.2" stroke="#ff9800" stroke-width="1.3"/>
<circle cx="396.2" cy="207" r="10.7" fill="#ff9800" fill-opacity="0.2" stroke="#ff9800" stroke-width="1.3"/>
<circle cx="418.3" cy="261" r="14.5" fill="#ff9800" fill-opacity="0.2" stroke="#ff9800" stroke-width="1.3"/>
<line x1="54.8" y1="164" x2="150.3" y2="336.6" stroke="#363a45" stroke-width="1.5"/>
<line x1="172.5" y1="338.8" x2="240" y2="296" stroke="#363a45" stroke-width="1.5"/>
<line x1="268" y1="334.3" x2="356.6" y2="258.8" stroke="#363a45" stroke-width="1.5"/>
<line x1="347.7" y1="326.6" x2="431.5" y2="186" stroke="#363a45" stroke-width="1.5"/>
</g>
<circle cx="620.3" cy="331.9" r="5.1" fill="#fff" stroke="#9c27b0" stroke-opacity="0.8" stroke-width="1.1"/>
<path d="M622.3,329.2 L618.3,332.7 L620.2,332.7 L618.6,335.3 L622.5,331.7 L620.6,331.7 Z" fill="#9c27b0" fill-opacity="0.9" stroke="#9c27b0" stroke-width="0.4"/>
<circle cx="624" cy="328.3" r="1.4" fill="#f23645"/>
<text x="929" y="68.2" font-size="10" fill="#f23645" stroke="#f23645" stroke-width="0.15" text-anchor="end" textLength="53" lengthAdjust="spacingAndGlyphs">R3 - 155.60</text>
<text x="929" y="111.7" font-size="10" fill="#f23645" stroke="#f23645" stroke-width="0.15" text-anchor="end" textLength="53" lengthAdjust="spacingAndGlyphs">R2 - 153.35</text>
<text x="929" y="162" font-size="10" fill="#f23645" stroke="#f23645" stroke-width="0.15" text-anchor="end" textLength="53" lengthAdjust="spacingAndGlyphs">R1 - 150.75</text>
<text x="929" y="224" font-size="10" fill="#4caf50" stroke="#4caf50" stroke-width="0.15" text-anchor="end" textLength="53" lengthAdjust="spacingAndGlyphs">S1 - 148.50</text>
<text x="929" y="269.5" font-size="10" fill="#4caf50" stroke="#4caf50" stroke-width="0.15" text-anchor="end" textLength="53" lengthAdjust="spacingAndGlyphs">S2 - 146.25</text>
<text x="929" y="308.3" font-size="10" fill="#4caf50" stroke="#4caf50" stroke-width="0.15" text-anchor="end" textLength="53" lengthAdjust="spacingAndGlyphs">S3 - 144.35</text>
<text x="928.5" y="34.4" font-size="14.5" fill="#2a2e39" text-anchor="end" textLength="96.7" lengthAdjust="spacingAndGlyphs">USD/JPY DAILY</text>
<text x="10" y="24.5" font-size="6" fill="#131722">BB</text>
<line x1="5" y1="339.25" x2="969" y2="339.25" stroke="#ebecee" stroke-width="1"/>
<line x1="5" y1="405" x2="969" y2="405" stroke="#ebecee" stroke-width="1"/>
<g clip-path="url(#cr)">
<rect x="5" y="348" width="930" height="54" fill="#7e57c2" fill-opacity="0.1"/>
<line x1="5" y1="348.3" x2="926" y2="348.3" stroke="#4caf50" stroke-width="1.4" stroke-dasharray="8,9.5" stroke-dashoffset="15.6"/>
<line x1="5" y1="375" x2="926" y2="375" stroke="#787b86" stroke-opacity="0.8" stroke-width="1" stroke-dasharray="5.1,6.6"/>
<line x1="5" y1="402.1" x2="926" y2="402.1" stroke="#f23645" stroke-width="1.4" stroke-dasharray="8,9.5" stroke-dashoffset="15.6"/>
<path d="M5.0,393.8 C8.3,393.1 20.4,391.0 25.0,390.0 C29.6,389.0 29.2,388.8 32.5,387.5 C35.8,386.2 40.4,384.1 45.0,382.5 C49.6,380.9 55.0,378.5 60.0,378.0 C65.0,377.5 70.4,379.0 75.0,379.5 C79.6,380.0 82.5,379.4 87.5,380.8 C92.5,382.1 98.8,385.0 105.0,387.5 C111.2,390.0 117.5,394.2 125.0,395.5 C132.5,396.8 141.7,397.0 150.0,395.5 C158.3,394.0 166.7,389.5 175.0,386.2 C183.3,383.0 193.3,378.4 200.0,376.2 C206.7,374.1 210.8,373.5 215.0,373.2 C219.2,373.0 220.8,373.8 225.0,374.5 C229.2,375.2 233.3,376.6 240.0,377.5 C246.7,378.4 256.7,380.0 265.0,380.0 C273.3,380.0 281.7,378.5 290.0,377.5 C298.3,376.5 308.8,374.7 315.0,373.8 C321.2,372.8 322.1,371.9 327.5,371.8 C332.9,371.6 340.0,373.0 347.5,373.0 C355.0,373.0 365.4,372.8 372.5,372.0 C379.6,371.2 384.2,369.5 390.0,368.0 C395.8,366.5 402.1,363.9 407.5,363.0 C412.9,362.1 417.1,362.8 422.5,362.5 C427.9,362.2 435.0,361.1 440.0,361.2 C445.0,361.4 447.5,362.2 452.5,363.2 C457.5,364.3 465.4,366.7 470.0,367.5 C474.6,368.3 476.2,367.7 480.0,368.0 C483.8,368.3 488.3,368.7 492.5,369.5 C496.7,370.3 498.8,372.2 505.0,373.0 C511.2,373.8 521.7,374.5 530.0,374.5 C538.3,374.5 546.7,373.0 555.0,373.0 C563.3,373.0 571.7,374.2 580.0,374.5 C588.3,374.8 598.4,375.2 605.0,375.0 C611.6,374.8 617.1,373.5 619.5,373.2" fill="none" stroke="#b39ddb" stroke-width="0.9"/>
<path d="M5.0,393.8 L10.0,383.8 L16.2,380.5 L20.0,381.2 L25.0,384.2 L31.2,380.0 L36.2,368.0 L41.2,374.5 L48.8,366.2 L53.8,375.5 L60.0,376.2 L65.0,381.2 L71.2,398.8 L80.0,385.0 L83.8,391.2 L88.8,384.5 L93.8,396.2 L100.0,401.2 L105.0,400.0 L110.0,403.8 L115.0,399.5 L118.8,400.5 L123.8,404.5 L128.0,391.2 L133.8,388.0 L137.0,389.5 L141.2,384.5 L146.2,391.2 L151.2,389.5 L158.0,372.0 L162.5,373.8 L172.0,386.2 L180.5,368.8 L185.0,372.0 L189.5,360.5 L197.5,367.5 L203.0,373.8 L207.0,373.8 L212.5,377.5 L217.0,379.5 L221.2,382.5 L225.0,380.5 L229.5,387.0 L233.8,385.5 L238.8,376.2 L242.5,373.8 L246.2,377.5 L251.2,378.2 L255.5,385.0 L260.0,377.5 L264.5,383.0 L268.8,378.8 L273.8,372.0 L278.8,373.0 L282.5,371.8 L287.5,373.8 L290.8,379.5 L296.2,375.0 L303.8,369.5 L308.0,370.5 L316.2,364.5 L320.5,363.8 L324.5,375.0 L329.5,372.0 L335.0,377.5 L338.8,375.8 L347.5,384.5 L351.2,382.5 L356.2,372.0 L361.2,375.5 L366.2,366.2 L370.0,362.5 L377.5,365.0 L383.0,358.2 L386.2,357.0 L391.2,350.5 L396.2,359.5 L401.2,355.5 L404.5,355.5 L408.8,366.2 L413.8,372.5 L417.5,373.2 L425.0,366.2 L431.2,360.0 L435.0,361.8 L444.5,349.5 L449.5,375.0 L453.8,375.8 L457.5,372.5 L462.5,375.0 L466.2,376.2 L473.8,369.5 L477.5,370.5 L480.0,371.2 L483.8,375.0 L487.5,372.0 L492.5,376.2 L497.5,371.2 L505.0,375.0 L510.0,368.0 L515.0,378.8 L520.0,373.2 L526.2,375.0 L532.5,378.8 L540.0,377.5 L545.5,367.0 L549.5,368.8 L553.8,367.0 L557.5,375.8 L566.2,375.8 L571.2,376.2 L576.2,378.8 L581.2,373.2 L584.5,375.8 L589.2,385.0 L597.5,369.5 L602.5,370.0 L610.5,373.0 L615.0,362.5 L619.5,363.2" fill="none" stroke="#363a45" stroke-width="1"/>
</g>
<g opacity="0.45"><path d="M605,375 L640,382 L622,390 Z" fill="#0097a7"/><rect x="621" y="381.5" width="164.8" height="17.0" rx="3" fill="#0097a7"/></g>
<text x="626.3" y="392" font-size="8" fill="#131722" stroke="#131722" stroke-width="0.12" textLength="153.5" lengthAdjust="spacingAndGlyphs">RSI near 60 , implies bullish market sentiment</text>
<text x="9" y="349" font-size="6" fill="#131722">RSI</text>
<g clip-path="url(#cd)">
<line x1="5" y1="442.5" x2="902" y2="442.5" stroke="#787b86" stroke-opacity="0.6" stroke-width="0.8" stroke-dasharray="3,3"/>
<rect x="8.20" y="439.50" width="3.6" height="3.00" fill="#26a69a"/>
<rect x="12.59" y="437.00" width="3.6" height="5.50" fill="#26a69a"/>
<rect x="16.98" y="435.00" width="3.6" height="7.50" fill="#26a69a"/>
<rect x="21.37" y="434.25" width="3.6" height="8.25" fill="#26a69a"/>
<rect x="25.76" y="434.25" width="3.6" height="8.25" fill="#26a69a"/>
<rect x="30.15" y="433.00" width="3.6" height="9.50" fill="#26a69a"/>
<rect x="34.54" y="430.00" width="3.6" height="12.50" fill="#26a69a"/>
<rect x="38.93" y="430.00" width="3.6" height="12.50" fill="#26a69a"/>
<rect x="43.32" y="428.75" width="3.6" height="13.75" fill="#26a69a"/>
<rect x="47.71" y="428.00" width="3.6" height="14.50" fill="#26a69a"/>
<rect x="52.10" y="430.00" width="3.6" height="12.50" fill="#b2dfdb"/>
<rect x="56.49" y="431.75" width="3.6" height="10.75" fill="#b2dfdb"/>
<rect x="60.88" y="433.75" width="3.6" height="8.75" fill="#b2dfdb"/>
<rect x="65.27" y="437.00" width="3.6" height="5.50" fill="#b2dfdb"/>
<rect x="69.66" y="442.5" width="3.6" height="2.50" fill="#ff5252"/>
<rect x="74.05" y="442.5" width="3.6" height="5.50" fill="#ff5252"/>
<rect x="78.44" y="442.5" width="3.6" height="4.50" fill="#ffcdd2"/>
<rect x="82.83" y="442.5" width="3.6" height="7.00" fill="#ff5252"/>
<rect x="87.22" y="442.5" width="3.6" height="5.50" fill="#ffcdd2"/>
<rect x="91.61" y="442.5" width="3.6" height="10.00" fill="#ff5252"/>
<rect x="96.00" y="442.5" width="3.6" height="13.75" fill="#ff5252"/>
<rect x="100.39" y="442.5" width="3.6" height="16.25" fill="#ff5252"/>
<rect x="104.78" y="442.5" width="3.6" height="17.00" fill="#ff5252"/>
<rect x="109.17" y="442.5" width="3.6" height="17.50" fill="#ff5252"/>
<rect x="113.56" y="442.5" width="3.6" height="17.00" fill="#ffcdd2"/>
<rect x="117.95" y="442.5" width="3.6" height="16.25" fill="#ffcdd2"/>
<rect x="122.34" y="442.5" width="3.6" height="15.00" fill="#ff5252"/>
<rect x="126.73" y="442.5" width="3.6" height="10.00" fill="#ffcdd2"/>
<rect x="131.12" y="442.5" width="3.6" height="5.50" fill="#ffcdd2"/>
<rect x="135.51" y="442.5" width="3.6" height="2.50" fill="#ffcdd2"/>
<rect x="139.90" y="440.75" width="3.6" height="1.75" fill="#26a69a"/>
<rect x="144.29" y="440.75" width="3.6" height="1.75" fill="#26a69a"/>
<rect x="148.68" y="439.50" width="3.6" height="3.00" fill="#26a69a"/>
<rect x="153.07" y="437.50" width="3.6" height="5.00" fill="#26a69a"/>
<rect x="157.46" y="431.25" width="3.6" height="11.25" fill="#26a69a"/>
<rect x="161.85" y="428.25" width="3.6" height="14.25" fill="#26a69a"/>
<rect x="166.24" y="430.50" width="3.6" height="12.00" fill="#b2dfdb"/>
<rect x="170.63" y="433.00" width="3.6" height="9.50" fill="#b2dfdb"/>
<rect x="175.02" y="432.00" width="3.6" height="10.50" fill="#26a69a"/>
<rect x="179.41" y="428.00" width="3.6" height="14.50" fill="#26a69a"/>
<rect x="183.80" y="426.75" width="3.6" height="15.75" fill="#26a69a"/>
<rect x="188.19" y="420.75" width="3.6" height="21.75" fill="#26a69a"/>
<rect x="192.58" y="420.00" width="3.6" height="22.50" fill="#26a69a"/>
<rect x="196.97" y="421.25" width="3.6" height="21.25" fill="#b2dfdb"/>
<rect x="201.36" y="426.10" width="3.6" height="16.40" fill="#b2dfdb"/>
<rect x="205.75" y="429.20" width="3.6" height="13.30" fill="#b2dfdb"/>
<rect x="210.14" y="433.30" width="3.6" height="9.20" fill="#b2dfdb"/>
<rect x="214.53" y="436.90" width="3.6" height="5.60" fill="#b2dfdb"/>
<rect x="218.92" y="441.00" width="3.6" height="1.50" fill="#b2dfdb"/>
<rect x="223.31" y="442.5" width="3.6" height="1.50" fill="#ff5252"/>
<rect x="227.70" y="442.5" width="3.6" height="4.60" fill="#ff5252"/>
<rect x="232.09" y="442.5" width="3.6" height="6.20" fill="#ff5252"/>
<rect x="236.48" y="442.5" width="3.6" height="3.90" fill="#ffcdd2"/>
<rect x="240.87" y="442.5" width="3.6" height="1.20" fill="#ffcdd2"/>
<rect x="245.26" y="442.5" width="3.6" height="1.00" fill="#ffcdd2"/>
<rect x="249.65" y="442.5" width="3.6" height="1.00" fill="#ffcdd2"/>
<rect x="254.04" y="442.5" width="3.6" height="3.10" fill="#ff5252"/>
<rect x="258.43" y="442.5" width="3.6" height="2.00" fill="#ffcdd2"/>
<rect x="262.82" y="442.5" width="3.6" height="3.10" fill="#ff5252"/>
<rect x="267.21" y="442.5" width="3.6" height="2.00" fill="#ffcdd2"/>
<rect x="271.60" y="441.00" width="3.6" height="1.50" fill="#26a69a"/>
<rect x="275.99" y="439.60" width="3.6" height="2.90" fill="#26a69a"/>
<rect x="280.38" y="437.90" width="3.6" height="4.60" fill="#26a69a"/>
<rect x="284.77" y="437.90" width="3.6" height="4.60" fill="#26a69a"/>
<rect x="289.16" y="439.90" width="3.6" height="2.60" fill="#b2dfdb"/>
<rect x="293.55" y="439.90" width="3.6" height="2.60" fill="#b2dfdb"/>
<rect x="297.94" y="438.90" width="3.6" height="3.60" fill="#26a69a"/>
<rect x="302.33" y="437.00" width="3.6" height="5.50" fill="#26a69a"/>
<rect x="306.72" y="436.50" width="3.6" height="6.00" fill="#26a69a"/>
<rect x="311.11" y="435.25" width="3.6" height="7.25" fill="#26a69a"/>
<rect x="315.50" y="434.00" width="3.6" height="8.50" fill="#26a69a"/>
<rect x="319.89" y="433.25" width="3.6" height="9.25" fill="#26a69a"/>
<rect x="324.28" y="437.00" width="3.6" height="5.50" fill="#b2dfdb"/>
<rect x="328.67" y="438.25" width="3.6" height="4.25" fill="#b2dfdb"/>
<rect x="333.06" y="440.25" width="3.6" height="2.25" fill="#b2dfdb"/>
<rect x="337.45" y="441.25" width="3.6" height="1.25" fill="#b2dfdb"/>
<rect x="341.84" y="442.5" width="3.6" height="1.25" fill="#ff5252"/>
<rect x="346.23" y="442.5" width="3.6" height="2.50" fill="#ff5252"/>
<rect x="350.62" y="442.5" width="3.6" height="4.50" fill="#ff5252"/>
<rect x="355.01" y="442.5" width="3.6" height="1.50" fill="#ffcdd2"/>
<rect x="359.40" y="442.5" width="3.6" height="0.75" fill="#ffcdd2"/>
<rect x="363.79" y="439.50" width="3.6" height="3.00" fill="#26a69a"/>
<rect x="368.18" y="438.25" width="3.6" height="4.25" fill="#26a69a"/>
<rect x="372.57" y="436.50" width="3.6" height="6.00" fill="#26a69a"/>
<rect x="376.96" y="435.75" width="3.6" height="6.75" fill="#26a69a"/>
<rect x="381.35" y="434.00" width="3.6" height="8.50" fill="#26a69a"/>
<rect x="385.74" y="432.00" width="3.6" height="10.50" fill="#26a69a"/>
<rect x="390.13" y="429.50" width="3.6" height="13.00" fill="#26a69a"/>
<rect x="394.52" y="430.25" width="3.6" height="12.25" fill="#b2dfdb"/>
<rect x="398.91" y="430.25" width="3.6" height="12.25" fill="#b2dfdb"/>
<rect x="403.30" y="431.25" width="3.6" height="11.25" fill="#b2dfdb"/>
<rect x="407.69" y="434.50" width="3.6" height="8.00" fill="#b2dfdb"/>
<rect x="412.08" y="439.00" width="3.6" height="3.50" fill="#b2dfdb"/>
<rect x="416.47" y="442.5" width="3.6" height="0.75" fill="#ffcdd2"/>
<rect x="420.86" y="442.5" width="3.6" height="1.25" fill="#ff5252"/>
<rect x="425.25" y="442.5" width="3.6" height="0.75" fill="#ffcdd2"/>
<rect x="429.64" y="441.25" width="3.6" height="1.25" fill="#26a69a"/>
<rect x="434.03" y="440.25" width="3.6" height="2.25" fill="#26a69a"/>
<rect x="438.42" y="438.25" width="3.6" height="4.25" fill="#26a69a"/>
<rect x="442.81" y="435.00" width="3.6" height="7.50" fill="#26a69a"/>
<rect x="447.20" y="439.50" width="3.6" height="3.00" fill="#b2dfdb"/>
<rect x="451.59" y="442.5" width="3.6" height="2.00" fill="#ff5252"/>
<rect x="455.98" y="442.5" width="3.6" height="3.25" fill="#ff5252"/>
<rect x="460.37" y="442.5" width="3.6" height="4.50" fill="#ff5252"/>
<rect x="464.76" y="442.5" width="3.6" height="5.75" fill="#ff5252"/>
<rect x="469.15" y="442.5" width="3.6" height="5.00" fill="#ffcdd2"/>
<rect x="473.54" y="442.5" width="3.6" height="4.50" fill="#ffcdd2"/>
<rect x="477.93" y="442.5" width="3.6" height="4.00" fill="#ffcdd2"/>
<rect x="482.32" y="442.5" width="3.6" height="5.00" fill="#ff5252"/>
<rect x="486.71" y="442.5" width="3.6" height="2.80" fill="#ffcdd2"/>
<rect x="491.10" y="442.5" width="3.6" height="5.30" fill="#ff5252"/>
<rect x="495.49" y="442.5" width="3.6" height="2.80" fill="#ffcdd2"/>
<rect x="499.88" y="442.5" width="3.6" height="3.40" fill="#ffcdd2"/>
<rect x="504.27" y="442.5" width="3.6" height="3.80" fill="#ff5252"/>
<rect x="508.66" y="442.5" width="3.6" height="2.30" fill="#ffcdd2"/>
<rect x="513.05" y="442.5" width="3.6" height="3.40" fill="#ff5252"/>
<rect x="517.44" y="442.5" width="3.6" height="2.30" fill="#ffcdd2"/>
<rect x="521.83" y="442.5" width="3.6" height="2.80" fill="#ff5252"/>
<rect x="526.22" y="442.5" width="3.6" height="1.90" fill="#ffcdd2"/>
<rect x="530.61" y="442.5" width="3.6" height="3.40" fill="#ff5252"/>
<rect x="535.00" y="442.5" width="3.6" height="3.40" fill="#ff5252"/>
<rect x="539.39" y="442.5" width="3.6" height="1.00" fill="#ffcdd2"/>
<rect x="543.78" y="442.5" width="3.6" height="0.50" fill="#ffcdd2"/>
<rect x="548.17" y="441.60" width="3.6" height="0.90" fill="#26a69a"/>
<rect x="552.56" y="440.60" width="3.6" height="1.90" fill="#26a69a"/>
<rect x="556.95" y="441.90" width="3.6" height="0.60" fill="#b2dfdb"/>
<rect x="561.34" y="442.5" width="3.6" height="0.50" fill="#ffcdd2"/>
<rect x="565.73" y="442.5" width="3.6" height="0.50" fill="#ffcdd2"/>
<rect x="570.12" y="442.5" width="3.6" height="0.50" fill="#ffcdd2"/>
<rect x="574.51" y="442.5" width="3.6" height="1.30" fill="#ff5252"/>
<rect x="578.90" y="442.5" width="3.6" height="0.50" fill="#ffcdd2"/>
<rect x="583.29" y="442.5" width="3.6" height="0.50" fill="#ffcdd2"/>
<rect x="587.68" y="442.5" width="3.6" height="2.50" fill="#ff5252"/>
<rect x="592.07" y="442.5" width="3.6" height="2.80" fill="#ff5252"/>
<rect x="596.46" y="442.5" width="3.6" height="0.90" fill="#ffcdd2"/>
<rect x="600.85" y="441.60" width="3.6" height="0.90" fill="#26a69a"/>
<rect x="605.24" y="441.60" width="3.6" height="0.90" fill="#b2dfdb"/>
<rect x="609.63" y="441.00" width="3.6" height="1.50" fill="#b2dfdb"/>
<rect x="614.02" y="439.10" width="3.6" height="3.40" fill="#26a69a"/>
<rect x="618.41" y="438.20" width="3.6" height="4.30" fill="#26a69a"/>
<path d="M36.2,460.0 C37.6,458.9 47.6,450.1 50.0,448.8 C52.4,447.4 58.4,446.2 60.0,446.2 C61.6,446.2 65.2,447.9 66.2,448.8 C67.2,449.6 69.2,453.8 70.0,455.0 C70.8,456.2 73.8,459.9 74.2,460.5" fill="none" stroke="#4a4dff" stroke-width="0.9" stroke-opacity="0.85"/>
<path d="M181.2,460.0 C182.1,458.0 188.4,442.5 190.0,440.0 C191.6,437.5 195.8,435.5 197.5,435.0 C199.2,434.5 205.8,434.7 207.5,435.0 C209.2,435.3 213.8,437.4 215.0,438.0 C216.2,438.6 219.0,439.8 220.0,440.5 C221.0,441.2 224.0,444.1 225.0,445.0 C226.0,445.9 229.1,448.6 230.0,449.5 C230.9,450.4 233.0,453.8 234.0,454.0 C235.0,454.2 238.9,452.4 240.0,452.0 C241.1,451.6 244.0,450.5 245.0,450.3 C246.0,450.1 249.0,450.1 250.0,450.3 C251.0,450.5 254.0,452.5 255.0,452.7 C256.0,452.9 259.0,452.3 260.0,452.5 C261.0,452.7 264.0,454.4 265.0,454.6 C266.0,454.8 269.0,454.9 270.0,454.4 C271.0,453.9 273.8,450.7 275.0,450.0 C276.2,449.3 280.9,447.4 282.5,447.0 C284.1,446.6 289.5,446.0 291.2,445.5 C293.0,445.0 297.9,442.9 300.0,442.0 C302.1,441.1 310.4,438.0 312.5,437.0 C314.6,436.0 319.6,432.4 321.2,432.0 C322.9,431.6 327.0,432.5 328.8,433.0 C330.5,433.5 336.9,435.9 338.8,437.0 C340.6,438.1 346.1,443.0 347.5,443.8 C348.9,444.5 351.2,444.6 352.5,444.5 C353.8,444.4 358.4,443.8 360.0,443.0 C361.6,442.2 366.8,437.7 368.8,436.2 C370.8,434.8 377.8,430.7 380.0,428.8 C382.2,426.8 388.8,418.8 391.2,417.0 C393.8,415.2 402.6,411.1 405.0,411.2 C407.4,411.4 413.1,417.7 415.0,418.8 C416.9,419.8 422.0,421.9 423.8,422.0 C425.5,422.1 430.5,421.1 432.5,420.0 C434.5,418.9 441.8,411.2 443.8,411.2 C445.8,411.2 450.2,418.3 452.5,420.0 C454.8,421.7 463.8,427.3 466.2,428.2 C468.8,429.2 476.1,429.4 477.5,429.5 C478.9,429.6 478.6,429.0 480.0,429.5 C481.4,430.0 488.9,433.5 491.3,434.2 C493.8,434.9 502.7,436.0 504.5,436.1 C506.3,436.2 508.1,435.0 509.2,435.2 C510.3,435.4 514.0,437.5 515.8,438.0 C517.6,438.5 524.7,439.4 527.2,439.9 C529.7,440.4 537.8,442.9 540.4,442.7 C543.0,442.5 551.5,437.8 553.6,437.5 C555.7,437.2 558.3,438.9 561.1,439.3 C563.9,439.7 578.7,440.8 581.9,441.4 C585.1,442.0 591.1,445.0 593.2,445.0 C595.3,445.0 600.7,442.2 602.6,441.8 C604.5,441.4 610.3,441.1 612.0,440.5 C613.7,439.9 618.8,436.2 619.6,435.8" fill="none" stroke="#4a4dff" stroke-width="0.9" stroke-opacity="0.85"/>
<path d="M52.5,460.0 C54.0,459.3 63.9,453.2 67.5,453.2 C71.1,453.3 86.6,459.8 88.8,460.5" fill="none" stroke="#ffa726" stroke-width="0.9" stroke-opacity="0.85"/>
<path d="M193.8,460.0 C194.4,459.4 198.9,455.2 200.0,454.0 C201.1,452.8 204.0,448.9 205.0,448.0 C206.0,447.1 209.0,445.0 210.0,444.5 C211.0,444.0 214.0,443.2 215.0,443.0 C216.0,442.8 219.0,442.4 220.0,442.5 C221.0,442.6 224.0,444.1 225.0,444.5 C226.0,444.9 228.5,446.5 230.0,447.0 C231.5,447.5 238.0,449.2 240.0,449.5 C242.0,449.8 248.5,449.9 250.0,450.0 C251.5,450.1 253.5,450.1 255.0,450.3 C256.5,450.5 263.2,451.8 265.0,452.0 C266.8,452.2 271.0,452.6 272.5,452.5 C274.0,452.4 278.2,451.4 280.0,451.0 C281.8,450.6 288.0,449.3 290.0,449.0 C292.0,448.7 298.2,448.5 300.0,447.8 C301.8,447.1 304.5,443.1 307.5,442.0 C310.5,440.9 326.0,437.2 330.0,437.0 C334.0,436.8 344.5,439.5 347.5,440.0 C350.5,440.5 357.2,442.2 360.0,442.0 C362.8,441.8 371.5,438.9 375.0,437.5 C378.5,436.1 391.5,429.3 395.0,427.5 C398.5,425.7 406.8,420.2 410.0,419.5 C413.2,418.8 423.8,420.8 427.5,420.5 C431.2,420.2 443.8,416.9 447.5,417.0 C451.2,417.1 461.4,420.2 465.0,421.2 C468.6,422.2 480.4,426.0 483.8,427.0 C487.1,428.0 495.5,430.2 498.9,431.0 C502.3,431.8 513.6,434.4 517.7,435.2 C521.9,436.0 536.6,438.9 540.4,439.3 C544.2,439.7 551.7,438.9 555.5,439.0 C559.3,439.1 574.0,440.2 578.1,440.5 C582.2,440.8 593.6,442.3 597.0,442.4 C600.4,442.5 609.6,441.5 612.0,441.2 C614.4,440.9 619.7,439.5 620.6,439.3" fill="none" stroke="#ffa726" stroke-width="0.9" stroke-opacity="0.85"/>
</g>
<text x="9" y="415.5" font-size="6" fill="#131722" font-style="italic">MACD</text>
<text x="62.3" y="469.8" font-size="6.5" fill="#131722" text-anchor="middle">Apr</text>
<text x="159" y="469.8" font-size="6.5" fill="#131722" text-anchor="middle">May</text>
<text x="255.5" y="469.8" font-size="6.5" fill="#131722" text-anchor="middle">Jun</text>
<text x="348" y="469.8" font-size="6.5" fill="#131722" text-anchor="middle">Jul</text>
<text x="449" y="469.8" font-size="6.5" fill="#131722" text-anchor="middle">Aug</text>
<text x="540" y="469.8" font-size="6.5" fill="#131722" text-anchor="middle">Sep</text>
<text x="637.3" y="469.8" font-size="6.5" fill="#131722" text-anchor="middle">Oct</text>
<text x="738.5" y="469.8" font-size="6.5" fill="#131722" text-anchor="middle">Nov</text>
<text x="826" y="469.8" font-size="6.5" fill="#131722" text-anchor="middle">Dec</text>
<text x="927.7" y="469.8" font-size="6.5" fill="#131722" text-anchor="middle">2026</text>
<text x="950.5" y="48.9" font-size="6.5" fill="#131722" text-anchor="middle">157.000</text>
<text x="950.5" y="67.8" font-size="6.5" fill="#131722" text-anchor="middle">156.000</text>
<text x="950.5" y="86.8" font-size="6.5" fill="#131722" text-anchor="middle">155.000</text>
<text x="950.5" y="106.0" font-size="6.5" fill="#131722" text-anchor="middle">154.000</text>
<text x="950.5" y="125.3" font-size="6.5" fill="#131722" text-anchor="middle">153.000</text>
<text x="950.5" y="144.7" font-size="6.5" fill="#131722" text-anchor="middle">152.000</text>
<text x="950.5" y="164.2" font-size="6.5" fill="#131722" text-anchor="middle">151.000</text>
<text x="950.5" y="183.9" font-size="6.5" fill="#131722" text-anchor="middle">150.000</text>
<text x="950.5" y="203.7" font-size="6.5" fill="#131722" text-anchor="middle">149.000</text>
<text x="950.5" y="243.7" font-size="6.5" fill="#131722" text-anchor="middle">147.000</text>
<text x="950.5" y="263.9" font-size="6.5" fill="#131722" text-anchor="middle">146.000</text>
<text x="950.5" y="280.2" font-size="6.5" fill="#131722" text-anchor="middle">145.200</text>
<text x="950.5" y="313.0" font-size="6.5" fill="#131722" text-anchor="middle">143.600</text>
<text x="950.5" y="329.5" font-size="6.5" fill="#131722" text-anchor="middle">142.800</text>
<rect x="935.2" y="68.76329306789009" width="29.5" height="8.7" fill="#f23645"/>
<text x="949.95" y="75.4" font-size="6.5" fill="#fff" text-anchor="middle" font-weight="bold">155.600</text>
<rect x="935.2" y="111.87782777261887" width="29.5" height="8.7" fill="#f23645"/>
<text x="949.95" y="118.5" font-size="6.5" fill="#fff" text-anchor="middle" font-weight="bold">153.350</text>
<rect x="935.2" y="162.49399043339778" width="29.5" height="8.7" fill="#f23645"/>
<text x="949.95" y="169.1" font-size="6.5" fill="#fff" text-anchor="middle" font-weight="bold">150.750</text>
<rect x="935.2" y="252.1978249395714" width="29.5" height="8.7" fill="#4caf50"/>
<text x="949.95" y="258.8" font-size="6.5" fill="#fff" text-anchor="middle" font-weight="bold">146.250</text>
<rect x="935.2" y="290.9045017485176" width="29.5" height="8.7" fill="#4caf50"/>
<text x="949.95" y="297.6" font-size="6.5" fill="#fff" text-anchor="middle" font-weight="bold">144.350</text>
<rect x="935.2" y="220" width="29.6" height="8.5" fill="#4caf50"/>
<text x="950.0" y="226.6" font-size="6.5" fill="#fff" text-anchor="middle" font-weight="bold">148.500</text>
<rect x="935.2" y="330.5" width="29.6" height="8.5" fill="#4caf50"/>
<text x="950.0" y="337.1" font-size="6.5" fill="#fff" text-anchor="middle" font-weight="bold">142.150</text>
<rect x="935.7" y="203.3" width="31.1" height="16.3" rx="1" fill="#f23645"/>
<text x="951.2" y="209.8" font-size="6.5" fill="#fff" text-anchor="middle">148.695</text>
<text x="951.2" y="217.3" font-size="6.5" fill="#fff" text-anchor="middle">14:36:58</text>
<rect x="908.8" y="203.3" width="25.4" height="8.4" fill="#f23645"/>
<text x="921.5" y="209.8" font-size="6.5" fill="#fff" text-anchor="middle" font-weight="bold">USDJPY</text>
<rect x="936.5" y="16.1" width="31" height="14.6" rx="2" fill="#fff" stroke="#e0e3eb" stroke-width="0.8"/>
<text x="941.5" y="25.8" font-size="6" fill="#131722">JPY</text>
<rect x="922" y="360" width="12.6" height="7.7" fill="#131722"/>
<text x="928.3" y="366.2" font-size="6.2" fill="#fff" text-anchor="middle">RSI</text>
<rect x="935.4" y="360" width="22.3" height="7.7" fill="#131722"/>
<text x="946.55" y="366.2" font-size="6.2" fill="#fff" text-anchor="middle">58.55</text>
<rect x="893" y="370" width="41.6" height="7.7" fill="#b39ddb"/>
<text x="913.8" y="376.2" font-size="6.2" fill="#131722" text-anchor="middle">RSI-based MA</text>
<rect x="935.4" y="370" width="22.3" height="7.7" fill="#b39ddb"/>
<text x="946.55" y="376.2" font-size="6.2" fill="#131722" text-anchor="middle">50.90</text>
<text x="947" y="390.3" font-size="6.5" fill="#131722" text-anchor="middle">40.00</text>
<text x="947.5" y="413.8" font-size="6.5" fill="#131722" text-anchor="middle">1.000</text>
<rect x="913.5" y="425.4" width="21.1" height="8.0" fill="#2b3bff"/>
<text x="924.05" y="431.7" font-size="6.2" fill="#fff" text-anchor="middle">MACD</text>
<rect x="935.4" y="425.4" width="22.3" height="8.0" fill="#2b3bff"/>
<text x="946.55" y="431.7" font-size="6.2" fill="#fff" text-anchor="middle">0.200</text>
<rect x="902" y="433.8" width="32.6" height="8.4" fill="#26a69a"/>
<text x="918.3" y="440.3" font-size="6.2" fill="#fff" text-anchor="middle">Histogram</text>
<rect x="935.4" y="433.8" width="22.3" height="8.4" fill="#26a69a"/>
<text x="946.55" y="440.3" font-size="6.2" fill="#fff" text-anchor="middle">0.134</text>
<rect x="913.5" y="443" width="21.1" height="8.4" fill="#ffb300"/>
<text x="924.05" y="449.5" font-size="6.2" fill="#131722" text-anchor="middle">Signal</text>
<rect x="935.4" y="443" width="22.3" height="8.4" fill="#ffb300"/>
<text x="946.55" y="449.5" font-size="6.2" fill="#131722" text-anchor="middle">0.066</text>
<rect x="5.5" y="14.5" width="963.5" height="460" fill="none" stroke="#ebecee" stroke-width="1"/>
<g fill="#131722"><path d="M6.4,487 h6.9 v7.4 h-3.5 v-5.1 h-3.4 z"/><circle cx="15.6" cy="488.3" r="1.25"/><path d="M18.3,487 h3.4 l-3.2,7.4 h-3.4 z"/></g>
<text x="26.9" y="494.6" font-size="10" fill="#131722" stroke="#131722" stroke-width="0.45" textLength="63.2" lengthAdjust="spacingAndGlyphs">TradingView</text>
</svg></body></html>
